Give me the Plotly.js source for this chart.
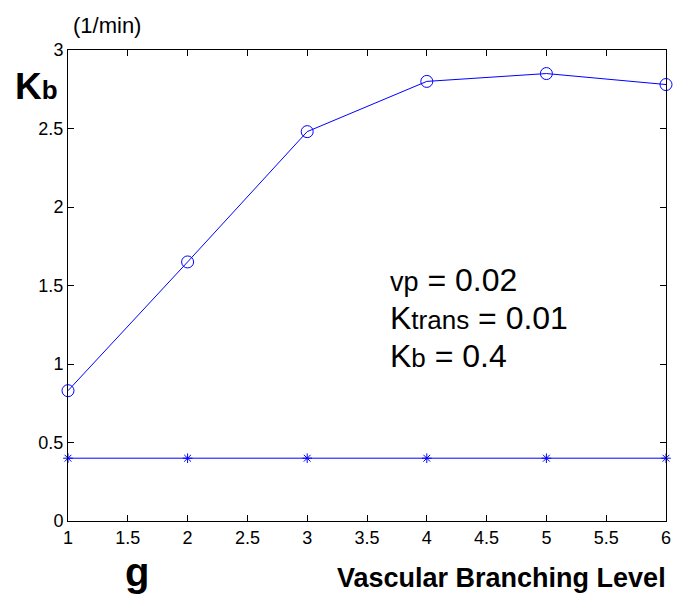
<!DOCTYPE html>
<html><head><meta charset="utf-8">
<script src="https://cdn.plot.ly/plotly-3.0.1.min.js"></script>
<style>html,body{margin:0;padding:0;background:#fff;}</style>
</head><body>
<div id="chart" style="width:689px;height:595px;"></div>
<script>
const levels = [1, 2, 3, 4, 5, 6];
const kbEstimated = [0.83, 1.65, 2.48, 2.80, 2.85, 2.78];
const kbTrue = [0.4, 0.4, 0.4, 0.4, 0.4, 0.4];
const xTicks = [1, 1.5, 2, 2.5, 3, 3.5, 4, 4.5, 5, 5.5, 6];
const xTickText = ['1', '1.5', '2', '2.5', '3', '3.5', '4', '4.5', '5', '5.5', '6'];
const yTicks = [0, 0.5, 1, 1.5, 2, 2.5, 3];
const yTickText = ['0', '0.5', '1', '1.5', '2', '2.5', '3'];

const blue = 'rgb(0,0,255)';
const traces = [
  {x: levels, y: kbEstimated, mode: 'lines+markers', type: 'scatter',
   line: {color: blue, width: 1},
   marker: {symbol: 'circle-open', size: 12, color: blue, line: {width: 1, color: blue}},
   cliponaxis: false},
  {x: levels, y: kbTrue, mode: 'lines+markers', type: 'scatter',
   line: {color: blue, width: 1},
   marker: {symbol: 'asterisk-open', size: 8, color: blue, line: {width: 1, color: blue}},
   cliponaxis: false}
];

const F = 'Liberation Sans, Arial, sans-serif';
const axisFont = {family: F, size: 18, color: '#000'};
const layout = {
  width: 689, height: 595,
  margin: {l: 68, r: 23, t: 50, b: 74},
  paper_bgcolor: '#fff', plot_bgcolor: '#fff',
  showlegend: false,
  xaxis: {range: [1, 6], tickvals: xTicks, ticktext: xTickText, ticks: 'inside', ticklen: 6,
          tickcolor: '#000', showgrid: false, zeroline: false, showline: true, linecolor: '#000',
          linewidth: 1, mirror: 'ticks', tickfont: axisFont},
  yaxis: {range: [0, 3], tickvals: yTicks, ticktext: yTickText, ticks: 'inside', ticklen: 6,
          tickcolor: '#000', showgrid: false, zeroline: false, showline: true, linecolor: '#000',
          linewidth: 1, mirror: 'ticks', tickfont: axisFont},
  annotations: [
    {xref: 'paper', yref: 'paper', x: (71 - 68) / 598, y: (521 - 25) / 471, xanchor: 'left', yanchor: 'middle', showarrow: false,
     text: '(1/min)', font: {family: F, size: 22, color: '#000'}},
    {xref: 'paper', yref: 'paper', x: (13 - 68) / 598, y: (521 - 86) / 471, xanchor: 'left', yanchor: 'middle', showarrow: false,
     text: '<b>K<span style="font-size:26px">b</span></b>', font: {family: F, size: 37, color: '#000'}},
    {xref: 'paper', yref: 'paper', x: (137 - 68) / 598, y: (521 - 572) / 471, xanchor: 'center', yanchor: 'middle', showarrow: false,
     text: '<b>g</b>', font: {family: F, size: 40, color: '#000'}},
    {xref: 'paper', yref: 'paper', x: (668 - 68) / 598, y: (521 - 578) / 471, xanchor: 'right', yanchor: 'middle', showarrow: false,
     text: '<b>Vascular Branching Level</b>', font: {family: F, size: 27, color: '#000'}},
    {xref: 'paper', yref: 'paper', x: (388 - 68) / 598, y: (521 - 280) / 471, xanchor: 'left', yanchor: 'middle', showarrow: false,
     text: '<span style="font-size:27px">vp</span> = 0.02', font: {family: F, size: 32, color: '#000'}},
    {xref: 'paper', yref: 'paper', x: (388 - 68) / 598, y: (521 - 318) / 471, xanchor: 'left', yanchor: 'middle', showarrow: false,
     text: 'K<span style="font-size:26px">trans</span> = 0.01', font: {family: F, size: 32, color: '#000'}},
    {xref: 'paper', yref: 'paper', x: (388 - 68) / 598, y: (521 - 356) / 471, xanchor: 'left', yanchor: 'middle', showarrow: false,
     text: 'K<span style="font-size:26px">b</span> = 0.4', font: {family: F, size: 32, color: '#000'}}
  ]
};
Plotly.newPlot('chart', traces, layout, {displayModeBar: false, staticPlot: true});
</script>
</body></html>
